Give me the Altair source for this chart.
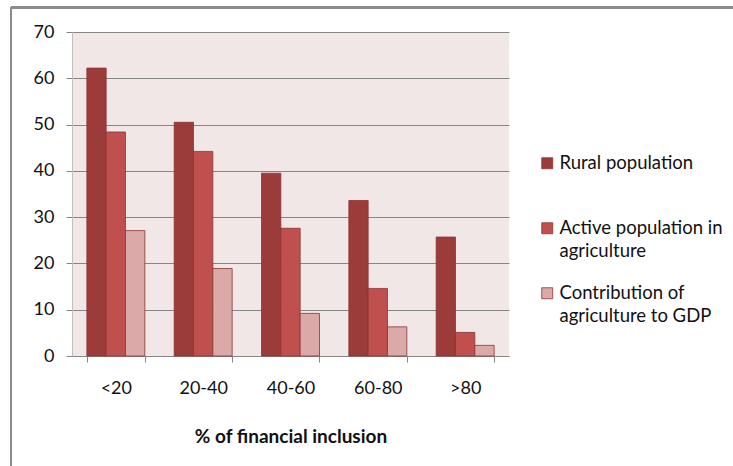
import altair as alt
import pandas as pd

categories = ["<20", "20-40", "40-60", "60-80", ">80"]
series = ["Rural population", "Active population in agriculture", "Contribution of agriculture to GDP"]
rural = [62.2, 50.5, 39.5, 33.6, 25.7]
active = [48.4, 44.2, 27.6, 14.6, 5.1]
contrib = [27.1, 18.9, 9.2, 6.3, 2.3]
colors = ["#9B3C3B", "#C0504D", "#DAA9A8"]

rows = []
for s, vals in zip(series, [rural, active, contrib]):
    for c, v in zip(categories, vals):
        rows.append({"cat": c, "series": s, "value": v})
df = pd.DataFrame(rows)

FONT = "Lato"

bars = alt.Chart(df).mark_bar(stroke="#8A3331", strokeWidth=0.8).encode(
    x=alt.X("cat:N", sort=categories, title="% of financial inclusion",
            scale=alt.Scale(paddingInner=0.336, paddingOuter=0.17),
            axis=alt.Axis(labelAngle=0, tickBand="extent", tickSize=6, tickColor="#868686",
                          domainColor="#868686", labelFontSize=18, labelPadding=17,
                          labelColor="#111", titleFontSize=19, titleFontWeight="bold",
                          titleColor="#111", titlePadding=30, labelFont=FONT, titleFont=FONT)),
    xOffset=alt.XOffset("series:N", sort=series, scale=alt.Scale(paddingInner=0, paddingOuter=0)),
    y=alt.Y("value:Q", title=None,
            scale=alt.Scale(domain=[0, 70], nice=False),
            axis=alt.Axis(values=[0, 10, 20, 30, 40, 50, 60, 70], grid=True, gridColor="#868686",
                          gridOpacity=1, domainColor="#BFBFBF", tickColor="#868686", tickSize=6,
                          labelFontSize=18, labelColor="#111", labelPadding=12, labelFont=FONT)),
    fill=alt.Fill("series:N", sort=series,
                  scale=alt.Scale(domain=series, range=colors),
                  legend=alt.Legend(title=None, orient="none", legendX=466, legendY=122,
                                    symbolType="square", symbolSize=121, symbolStrokeColor="#8A3331",
                                    symbolStrokeWidth=0.8, labelFontSize=18.5, labelFont=FONT,
                                    labelColor="#111", labelLimit=300, labelOffset=3,
                                    rowPadding=23, padding=0,
                                    labelExpr="datum.label == 'Active population in agriculture' ? ['Active population in', 'agriculture'] : datum.label == 'Contribution of agriculture to GDP' ? ['Contribution of', 'agriculture to GDP'] : ['Rural population', ' ']")),
)

border_top = alt.Chart(df).mark_rule(color="#8C8C8C", strokeWidth=2).encode(
    x=alt.value(-61), x2=alt.value(670), y=alt.value(-24.5))
border_left = alt.Chart(df).mark_rule(color="#8C8C8C", strokeWidth=2).encode(
    x=alt.value(-61), y=alt.value(-25), y2=alt.value(440))

chart = alt.layer(bars, border_top, border_left).properties(
    width=437, height=324,
    padding={"left": 72, "top": 32, "right": 224, "bottom": 110},
    autosize=alt.AutoSizeParams(type="none"),
    background="white",
).configure_view(fill="#F2E7E7", stroke=None)
chart.config.style = {"guide-label": {"lineHeight": 23}}

chart.save("out.html", embed_options={"renderer": "svg", "actions": False})
